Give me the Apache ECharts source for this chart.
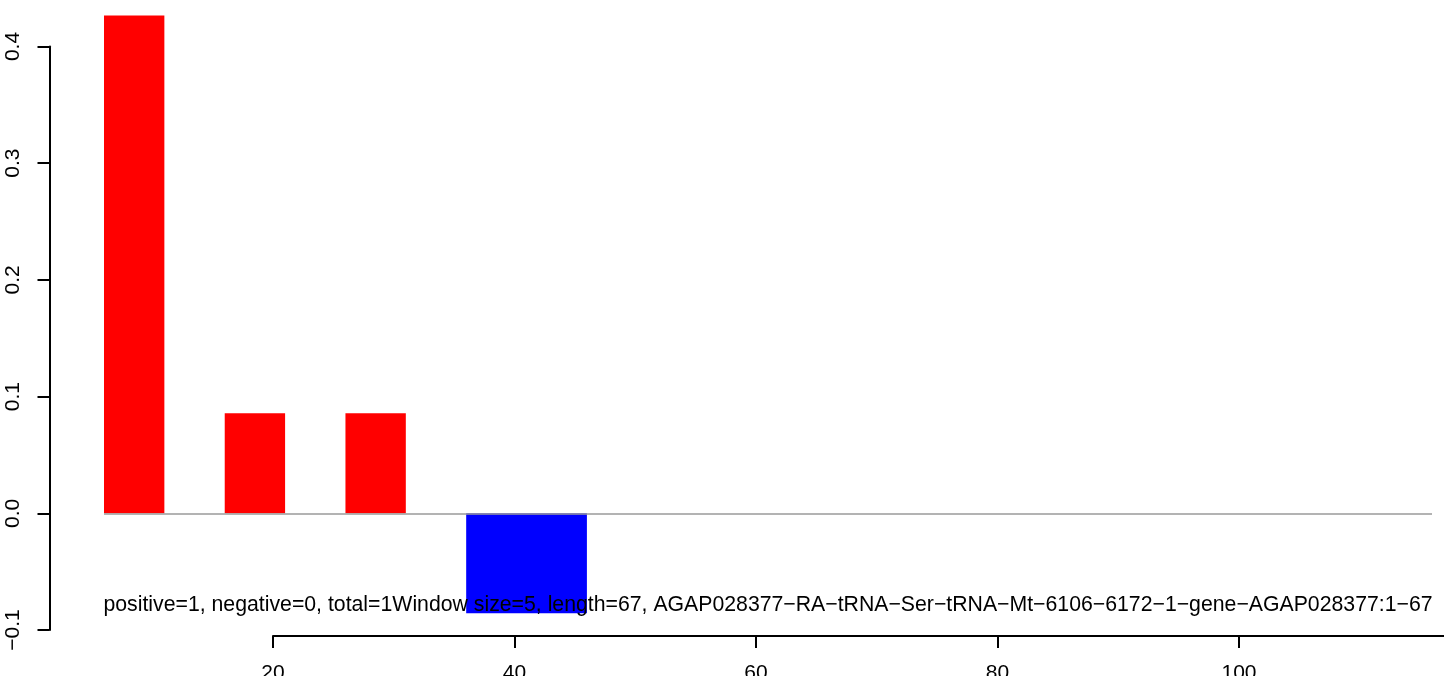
<!DOCTYPE html>
<html>
<head>
<meta charset="utf-8">
<script src="https://cdn.jsdelivr.net/npm/echarts@6/dist/echarts.min.js"></script>
<style>
html,body{margin:0;padding:0;background:#fff;}
#chart{width:1444px;height:676px;}
</style>
</head>
<body>
<div id="chart"></div>
<script>
// Window bars: start / end positions and values
const xStarts = [6, 16, 26, 36];
const xEnds = [11, 21, 31, 46];
const values = [0.4266, 0.0857, 0.0857, -0.0857];
const barColors = ['#FF0000', '#FF0000', '#FF0000', '#0000FF'];
// Axis ranges / ticks
const plotXRange = [6, 116];
const xAxisTicks = [20, 40, 60, 80, 100, 120];
const yAxisTicks = [-0.1, 0.0, 0.1, 0.2, 0.3, 0.4];
const annotation = 'positive=1, negative=0, total=1Window size=5, length=67, AGAP028377\u2212RA\u2212tRNA\u2212Ser\u2212tRNA\u2212Mt\u22126106\u22126172\u22121\u2212gene\u2212AGAP028377:1\u221267';

const FONT = '"Liberation Sans", Arial, Helvetica, sans-serif';
const chart = echarts.init(document.getElementById('chart'), null, {renderer: 'canvas'});

function fmtY(v) {
  if (Math.abs(v) < 1e-9) return '0.0';
  return v.toFixed(1).replace('-', '\u2212');
}

const option = {
  animation: false,
  backgroundColor: '#ffffff',
  grid: [
    {left: 104, top: 46.5, width: 1328, height: 583.5, outerBoundsMode: 'none', containLabel: false},
    {left: 273, top: 46.5, width: 1207.5, height: 589.5, outerBoundsMode: 'none', containLabel: false}
  ],
  xAxis: [
    {gridIndex: 0, type: 'value', min: plotXRange[0], max: plotXRange[1], show: false},
    {gridIndex: 1, type: 'value', min: xAxisTicks[0], max: xAxisTicks[xAxisTicks.length - 1],
     interval: xAxisTicks[1] - xAxisTicks[0],
     axisLine: {show: true, onZero: false, lineStyle: {color: '#000', width: 2}},
     axisTick: {show: true, length: 12, lineStyle: {color: '#000', width: 2}},
     axisLabel: {show: true, color: '#000', fontSize: 21, fontFamily: FONT, margin: 27},
     splitLine: {show: false}}
  ],
  yAxis: [
    {gridIndex: 0, type: 'value', min: yAxisTicks[0], max: yAxisTicks[yAxisTicks.length - 1],
     interval: 0.1, offset: 54.5,
     axisLine: {show: true, onZero: false, lineStyle: {color: '#000', width: 2}},
     axisTick: {show: true, length: 12, lineStyle: {color: '#000', width: 2}},
     axisLabel: {show: true, color: '#000', fontSize: 21, fontFamily: FONT, rotate: 90, margin: 26,
                 formatter: fmtY},
     splitLine: {show: false}},
    {gridIndex: 1, type: 'value', min: 0, max: 1, show: false}
  ],
  series: [
    {
      type: 'custom',
      xAxisIndex: 0, yAxisIndex: 0,
      clip: false,
      data: xStarts.map((s, i) => [s, xEnds[i], values[i]]),
      encode: {x: [0, 1], y: 2},
      renderItem: function (params, api) {
        const s = api.value(0), e = api.value(1), v = api.value(2);
        const p0 = api.coord([s, 0]);
        const p1 = api.coord([e, v]);
        return {
          type: 'rect',
          shape: {x: p0[0], y: Math.min(p0[1], p1[1]), width: p1[0] - p0[0], height: Math.abs(p1[1] - p0[1])},
          style: {fill: barColors[params.dataIndex]}
        };
      },
      z: 2
    },
    {
      type: 'line',
      xAxisIndex: 0, yAxisIndex: 0,
      data: [],
      z: 3,
      markLine: {
        silent: true,
        symbol: 'none',
        label: {show: false},
        lineStyle: {color: '#9a9a9a', width: 1.5, type: 'solid'},
        data: [{yAxis: 0}]
      }
    }
  ],
  graphic: [
    {
      type: 'text',
      z: 100,
      x: 768,
      y: 605,
      style: {
        text: annotation,
        fill: '#000',
        font: '21.25px ' + FONT,
        align: 'center',
        verticalAlign: 'middle'
      }
    }
  ]
};
chart.setOption(option);
</script>
</body>
</html>
